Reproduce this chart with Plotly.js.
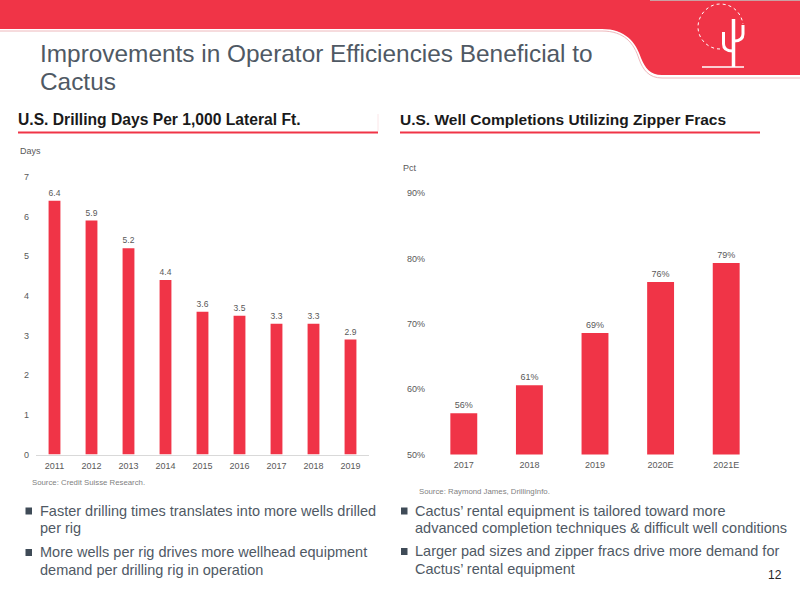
<!DOCTYPE html>
<html><head><meta charset="utf-8">
<script src="https://cdn.plot.ly/plotly-3.0.1.min.js"></script>
<style>html,body{margin:0;padding:0;background:#fff}#c{width:800px;height:600px}</style>
</head><body><div id="c"></div>
<script>
const drillYears = ['2011','2012','2013','2014','2015','2016','2017','2018','2019'];
const drillDays = [6.4,5.9,5.2,4.4,3.6,3.5,3.3,3.3,2.9];
const drillLabels = ['6.4','5.9','5.2','4.4','3.6','3.5','3.3','3.3','2.9'];
const drillTicks = [0,1,2,3,4,5,6,7];
const zipperYears = ['2017','2018','2019','2020E','2021E'];
const zipperPct = [56.3,60.6,68.6,76.4,79.3];
const zipperLabels = ['56%','61%','69%','76%','79%'];
const zipperTicks = [50,60,70,80,90];
const zipperTickText = ['50%','60%','70%','80%','90%'];
const RED = '#f03447', FONT = '"Liberation Sans", Arial, sans-serif', TICK = '#595959', BODY = '#4f5964';
const W = 800, H = 600;
const px = x => x / W, py = y => 1 - y / H;
const P = s => s.replace(/(-?[\d.]+),(-?[\d.]+)/g, (m, a, b) => px(+a).toFixed(5) + ',' + py(+b).toFixed(5));

function txt(text, x, y, size, color, opts) {
  return Object.assign({text, x: px(x - 1), y: py(y), xref: 'paper', yref: 'paper', showarrow: false,
    xanchor: 'left', yanchor: 'middle', borderpad: 0,
    font: {family: FONT, size, color}}, opts || {});
}
function line(x0, y0, x1, y1, color, width, dash) {
  return {type: 'line', xref: 'paper', yref: 'paper', x0: px(x0), y0: py(y0), x1: px(x1), y1: py(y1),
    line: {color, width, dash: dash || 'solid'}};
}
function path(d, opts) {
  return Object.assign({type: 'path', xref: 'paper', yref: 'paper', path: P(d)}, opts);
}
function sq(x, y) {
  return {type: 'rect', xref: 'paper', yref: 'paper', x0: px(x), x1: px(x + 6.5), y0: py(y + 3.5), y1: py(y - 3.5),
    fillcolor: '#3f4b57', line: {width: 0}};
}

const traces = [
  {type: 'bar', x: drillYears, y: drillDays, width: 0.32, text: drillLabels, textposition: 'outside', cliponaxis: false,
   marker: {color: RED, line: {width: 0}}, textfont: {family: FONT, size: 9, color: TICK}, xaxis: 'x', yaxis: 'y', hoverinfo: 'skip'},
  {type: 'bar', x: zipperYears, y: zipperPct, width: 0.41, text: zipperLabels, textposition: 'outside', cliponaxis: false,
   marker: {color: RED, line: {width: 0}}, textfont: {family: FONT, size: 9, color: TICK}, xaxis: 'x2', yaxis: 'y2', hoverinfo: 'skip'}
];
const tickf = {family: FONT, size: 9, color: TICK};
const layout = {
  width: W, height: H, margin: {l: 0, r: 0, t: 0, b: 0}, paper_bgcolor: '#fff', plot_bgcolor: 'rgba(0,0,0,0)',
  showlegend: false, font: {family: FONT},
  xaxis: {domain: [px(36), px(369)], type: 'category', anchor: 'y', showline: true, linecolor: '#d9d9d9', linewidth: 1, ticks: '', showgrid: false, zeroline: false, tickfont: tickf, ticklabelstandoff: 3},
  yaxis: {domain: [py(454.5), py(177)], range: [0, 7], tickmode: 'array', tickvals: drillTicks, anchor: 'x', showline: false, showgrid: false, zeroline: false, ticks: '', tickfont: tickf, ticklabelstandoff: 6},
  xaxis2: {domain: [px(431), px(759)], type: 'category', anchor: 'y2', showline: false, ticks: '', showgrid: false, zeroline: false, tickfont: tickf, ticklabelstandoff: 3},
  yaxis2: {domain: [py(454.5), py(193)], range: [50, 90], tickmode: 'array', tickvals: zipperTicks, ticktext: zipperTickText, anchor: 'x2', showline: false, showgrid: false, zeroline: false, ticks: '', tickfont: tickf, ticklabelstandoff: 5},
  shapes: [
    path('M0,0 L800,0 L800,75 L662,75 C650,75 645,68 641,58 C636,42 625,29 602,29 L0,29 Z', {fillcolor: RED, line: {width: 0}, layer: 'below'}),
    path('M0,31 L602,31 C624,31 634,43 639,59 C643,70 649,78 662,78 L800,78', {line: {color: '#eeb8bc', width: 1}, layer: 'below'}),
    line(650, 0.5, 800, 0.5, '#c9a0a3', 1),
    path('M720,49 C708,49 698,39 698,27 C698,15 708,4 720,4 C732,4 741,12 743,24', {line: {color: '#ffffff', width: 1, dash: 'dot'}}),
    path('M733.5,67 L733.5,19', {line: {color: '#ffffff', width: 3.5}}),
    path('M723.5,32 L723.5,44 C723.5,49 727,51 733,51', {line: {color: '#ffffff', width: 3}}),
    path('M743,25 L743,34 C743,39 739,41 734,41', {line: {color: '#ffffff', width: 3}}),
    line(702, 67, 744, 67, '#ffffff', 1.5),
    line(18, 132.5, 378, 132.5, RED, 2),
    line(400, 132.5, 760, 132.5, RED, 2),
    line(378, 114, 378, 131, '#fbe6e8', 1),
    sq(25.5, 511), sq(25.5, 552.5), sq(401, 511), sq(401, 551.5)
  ],
  annotations: [
    txt('Improvements in Operator Efficiencies Beneficial to', 40, 53.5, 24.4, BODY),
    txt('Cactus', 40, 81, 24.4, BODY),
    txt('<b>U.S. Drilling Days Per 1,000 Lateral Ft.</b>', 18, 120, 15.65, '#1a1a1a'),
    txt('<b>U.S. Well Completions Utilizing Zipper Fracs</b>', 400, 120, 15.5, '#1a1a1a'),
    txt('Days', 19.5, 151, 9, TICK),
    txt('Pct', 403, 168, 9, TICK),
    txt('Source: Credit Suisse Research.', 32, 482, 7.8, '#7f7f7f'),
    txt('Source: Raymond James, DrillingInfo.', 419, 492, 7.8, '#7f7f7f'),
    txt('Faster drilling times translates into more wells drilled', 40, 510.5, 14.5, BODY),
    txt('per rig', 40, 528, 14.5, BODY),
    txt('More wells per rig drives more wellhead equipment', 40, 552, 14.5, BODY),
    txt('demand per drilling rig in operation', 40, 569.5, 14.5, BODY),
    txt('Cactus\u2019 rental equipment is tailored toward more', 415, 510.5, 14.5, BODY),
    txt('advanced completion techniques &amp; difficult well conditions', 415, 527.5, 14.5, BODY),
    txt('Larger pad sizes and zipper fracs drive more demand for', 415, 551, 14.5, BODY),
    txt('Cactus\u2019 rental equipment', 415, 568.5, 14.5, BODY),
    txt('12', 775, 575, 12, '#262626', {xanchor: 'center', x: px(775)})
  ]
};
Plotly.newPlot('c', traces, layout, {displayModeBar: false, staticPlot: true});
</script></body></html>
